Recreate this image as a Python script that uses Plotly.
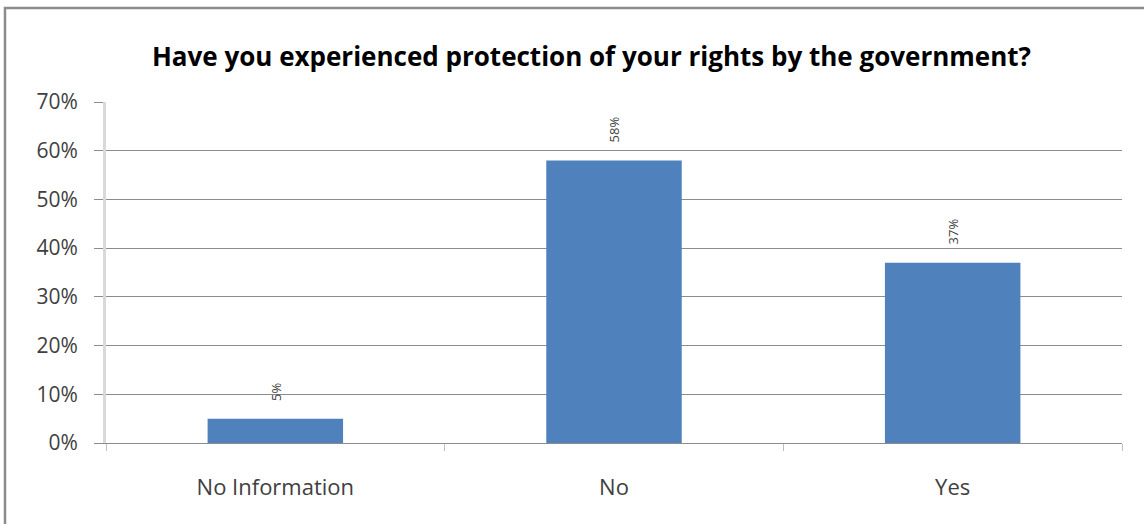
import plotly.graph_objects as go

categories = ["No Information", "No", "Yes"]
values = [5, 58, 37]
labels = ["5%", "58%", "37%"]
y_ticks = [0, 10, 20, 30, 40, 50, 60, 70]
y_tick_text = ["0%", "10%", "20%", "30%", "40%", "50%", "60%", "70%"]

W, H = 1144, 524
ml, mr, mt, mb = 106, 22, 102, 81
pw, ph = W - ml - mr, H - mt - mb

FONT = "Open Sans, DejaVu Sans, sans-serif"

fig = go.Figure(
    go.Bar(
        x=categories,
        y=values,
        marker=dict(color="#4f81bd", line=dict(width=0)),
        hoverinfo="skip",
    )
)

# rotated value labels above each bar
for cat, val, lab in zip(categories, values, labels):
    fig.add_annotation(
        x=cat, y=val, text=lab, showarrow=False,
        textangle=-90, xanchor="center", yanchor="bottom",
        yshift=16,
        font=dict(family=FONT, size=13, color="#404040"),
    )

# outer chart frame
fig.add_shape(
    type="rect", xref="paper", yref="paper",
    x0=(5 - ml) / pw, x1=(1150 - ml) / pw,
    y0=-(540 - (H - mb)) / ph, y1=((H - mb) - 8) / ph,
    line=dict(color="#8c8c8c", width=2.5), layer="below",
)

fig.update_layout(
    width=W, height=H,
    margin=dict(l=ml, r=mr, t=mt, b=mb),
    paper_bgcolor="white", plot_bgcolor="white",
    bargap=0.6,
    showlegend=False,
    title=dict(
        text="<b>Have you experienced protection of your rights by the government?</b>",
        x=0.517, xanchor="center", y=1 - 57 / H, yanchor="middle",
        font=dict(family=FONT, size=26, color="#000000"),
    ),
    xaxis=dict(
        type="category",
        tickson="boundaries",
        ticks="outside", ticklen=7, tickcolor="#bfbfbf", tickwidth=1,
        showline=True, linecolor="#8c8c8c", linewidth=1,
        showgrid=False,
        tickfont=dict(family=FONT, size=22, color="#404040"),
        ticklabelstandoff=25,
    ),
    yaxis=dict(
        range=[0, 70],
        tickvals=y_ticks, ticktext=y_tick_text,
        ticks="outside", ticklen=9, tickcolor="#8c8c8c",
        showline=True, linecolor="#d9d9d9", linewidth=3,
        showgrid=True, gridcolor="#8c8c8c", gridwidth=1,
        zeroline=False,
        tickfont=dict(family=FONT, size=21, color="#404040"),
        ticklabelstandoff=12,
    ),
)

fig.write_html("out.html")
